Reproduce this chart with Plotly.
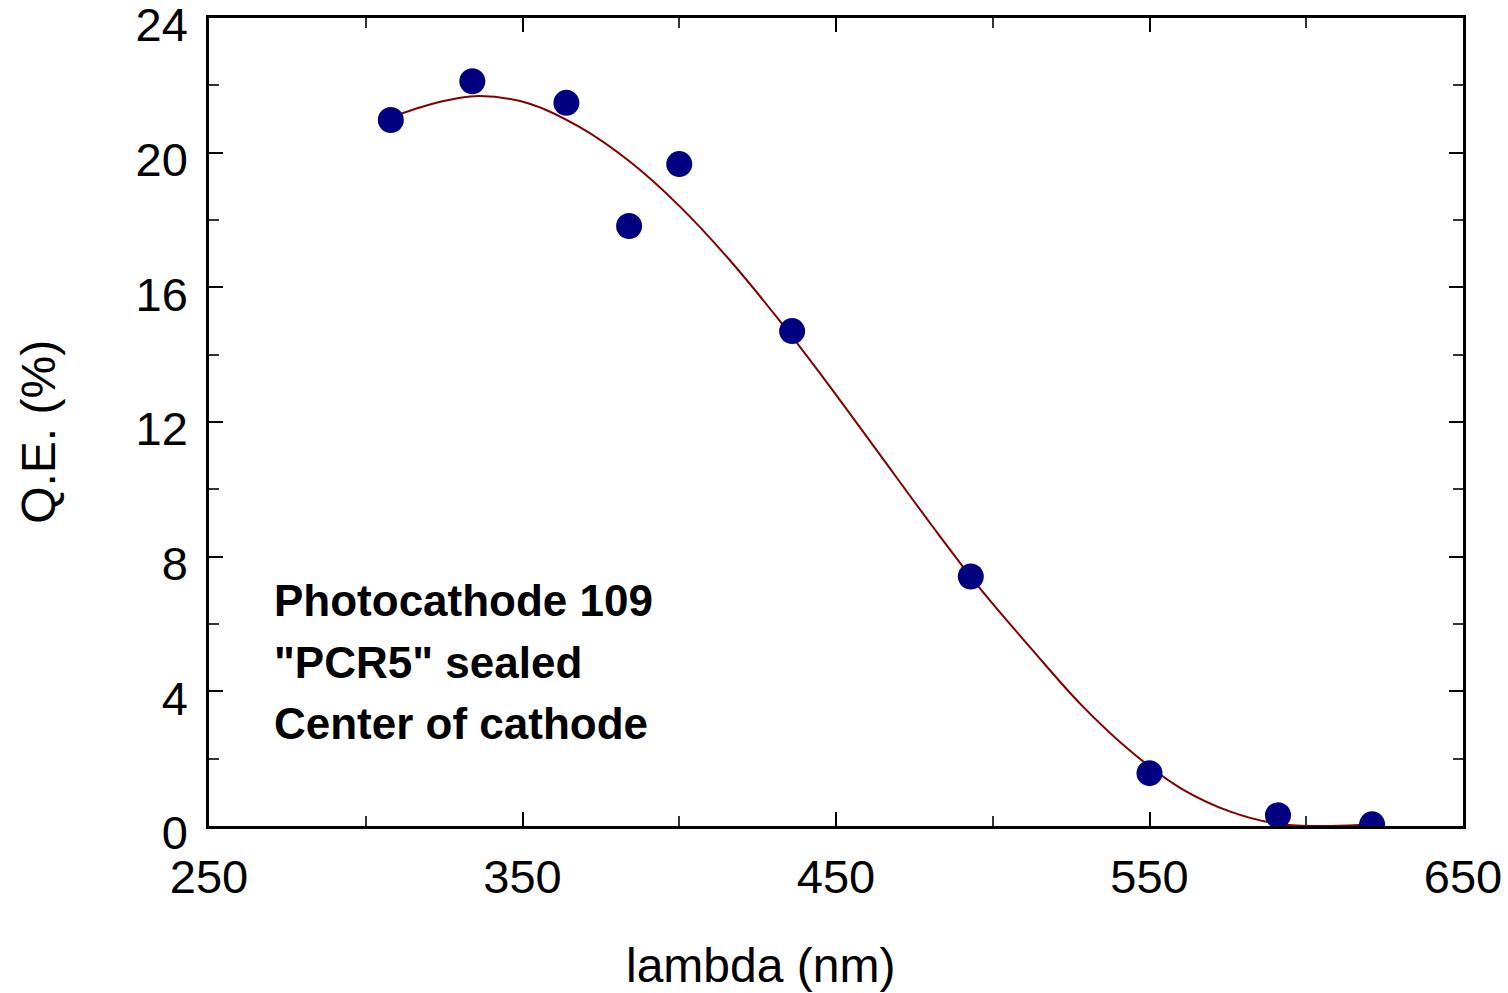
import plotly.graph_objects as go

# Measured quantum efficiency of the photocathode
wavelength_nm = [308, 334, 364, 384, 400, 436, 493, 550, 591, 621]
qe_percent = [20.97, 22.12, 21.48, 17.82, 19.66, 14.70, 7.41, 1.57, 0.32, 0.05]

# Smooth fit curve through the measurements
fit_nm = [308, 322, 336, 352, 368, 384, 400, 416, 432, 448, 464, 480,
          496, 512, 528, 544, 560, 576, 592, 608, 621]
fit_qe = [21.05, 21.47, 21.68, 21.46, 20.77, 19.75, 18.42, 16.82, 15.01, 13.06, 11.03, 9.00,
          7.05, 5.30, 3.62, 2.22, 1.12, 0.42, 0.05, 0.0, 0.05]

x_range = [250, 650]
y_range = [0, 24]
x_tick_vals = [250, 350, 450, 550, 650]
y_tick_vals = [0, 4, 8, 12, 16, 20, 24]

note_lines = ["Photocathode 109", '"PCR5" sealed', "Center of cathode"]
note_y = [6.71, 4.87, 3.03]

FONT = "Liberation Sans, Arial, Helvetica, sans-serif"

fig = go.Figure()

fig.add_trace(go.Scatter(
    x=fit_nm, y=fit_qe, mode="lines",
    line=dict(color="#800000", width=2, shape="spline", smoothing=1.0),
    hoverinfo="skip", showlegend=False,
))

fig.add_trace(go.Scatter(
    x=wavelength_nm, y=qe_percent, mode="markers",
    marker=dict(color="#000080", size=26, line=dict(width=0)),
    showlegend=False,
))

axis_common = dict(
    showgrid=False, zeroline=False, automargin=False,
    showline=True, linecolor="black", linewidth=2.5, mirror="ticks",
    ticks="inside", ticklen=14, tickwidth=2, tickcolor="black",
    tickfont=dict(family=FONT, size=47, color="black"),
    ticklabeloverflow="allow",
)

fig.update_xaxes(
    range=x_range, tickmode="array", tickvals=x_tick_vals,
    ticktext=[str(v) for v in x_tick_vals],
    minor=dict(ticks="inside", ticklen=10, tickwidth=1.5, tickcolor="#333333",
               tick0=250, dtick=50, showgrid=False),
    ticklabelstandoff=8,
    **axis_common,
)
fig.update_yaxes(
    range=y_range, tickmode="array", tickvals=y_tick_vals,
    ticktext=[str(v) for v in y_tick_vals],
    minor=dict(ticks="inside", ticklen=10, tickwidth=1.5, tickcolor="#333333",
               tick0=0, dtick=2, showgrid=False),
    ticklabelstandoff=9, ticklabelshift=7,
    **axis_common,
)

annotations = []
for line, yv in zip(note_lines, note_y):
    annotations.append(dict(
        x=270, y=yv, xref="x", yref="y", text=f"<b>{line}</b>",
        showarrow=False, xanchor="left", yanchor="middle",
        font=dict(family=FONT, size=44, color="black"),
    ))

# Axis titles
annotations.append(dict(
    x=0.4398, y=-0.1727, xref="paper", yref="paper", text="lambda (nm)",
    showarrow=False, xanchor="center", yanchor="middle",
    font=dict(family=FONT, size=48, color="black"),
))
annotations.append(dict(
    x=-0.1365, y=0.4876, xref="paper", yref="paper", text="Q.E. (%)",
    showarrow=False, xanchor="center", yanchor="middle", textangle=-90,
    font=dict(family=FONT, size=48, color="black"),
))

fig.update_layout(
    width=1508, height=993,
    margin=dict(l=209, r=45, t=18, b=167, autoexpand=False),
    paper_bgcolor="white", plot_bgcolor="white",
    annotations=annotations,
    showlegend=False,
)

fig.write_html("out.html")
